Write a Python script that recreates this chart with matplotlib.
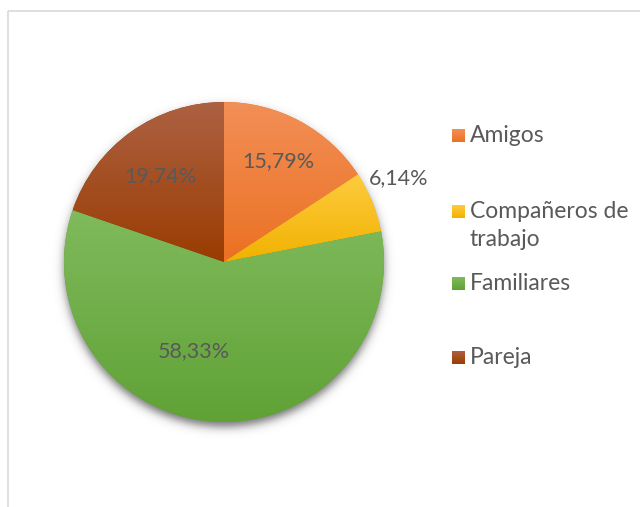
import numpy as np
import matplotlib
matplotlib.use("Agg")
import matplotlib.pyplot as plt
from matplotlib.colors import LinearSegmentedColormap

categories = ["Amigos", "Compañeros de\ntrabajo", "Familiares", "Pareja"]
values = [15.79, 6.14, 58.33, 19.74]

grad_top = ["#F28F57", "#FFCB3F", "#80BA5C", "#AD6142"]
grad_bot = ["#EB7122", "#F0B200", "#60A236", "#9A3C02"]
text_color = "#595959"
FONT = "Lato"

W, H = 640, 507
fig = plt.figure(figsize=(W / 100, H / 100), dpi=100)
ax = fig.add_axes([0, 0, 1, 1])

# chart border
ax.plot([8, 8], [0, H - 11], color="#D9D9D9", lw=1.2, solid_capstyle="butt")
ax.plot([8, W], [H - 11, H - 11], color="#D9D9D9", lw=1.2, solid_capstyle="butt")

cx, cy, R = 224, H - 262, 160

# shadow
xs = np.linspace(cx - R - 30, cx + R + 30, 400)
ys = np.linspace(cy - R - 30, cy + R + 30, 400)
X, Y = np.meshgrid(xs, ys)
d = np.hypot(X - cx, Y - (cy - 5)) - R
alpha = 0.55 / (1 + np.exp(d / 2.8))
rgba = np.zeros(X.shape + (4,))
rgba[..., 3] = alpha
ax.imshow(rgba, extent=(xs[0], xs[-1], ys[0], ys[-1]), origin="lower",
          zorder=1, interpolation="bilinear")

wedges, texts = ax.pie(
    values, center=(cx, cy), radius=R, startangle=90, counterclock=False,
    colors=grad_bot, frame=True, wedgeprops=dict(linewidth=0, zorder=2))

def grad_img(top, bot, n=256):
    cmap = LinearSegmentedColormap.from_list("g", [bot, top])
    return cmap(np.linspace(0, 1, n))[:, None, :]

for w, t, b in zip(wedges, grad_top, grad_bot):
    ext = w.get_path().get_extents()
    im = ax.imshow(grad_img(t, b), extent=(ext.x0, ext.x1, ext.y0, ext.y1),
                   origin="lower", aspect="auto", zorder=3, interpolation="bilinear")
    im.set_clip_path(w)

# data labels
label_pos = [(0.72, 0.0), (1.21, 3.5), (0.59, -15.0), (0.67, 1.0)]
start = 90.0
for v, (rf, dang) in zip(values, label_pos):
    mid = start - v * 3.6 / 2
    start -= v * 3.6
    a = np.deg2rad(mid + dang)
    ax.text(cx + rf * R * np.cos(a), cy + rf * R * np.sin(a),
            f"{v:.2f}%".replace(".", ","), ha="center", va="center",
            color=text_color, fontsize=15.5, family=FONT, zorder=5)

# legend
leg_y = [H - 136, H - 212, H - 284, H - 358]
for lab, t, b, y in zip(categories, grad_top, grad_bot, leg_y):
    ax.imshow(grad_img(t, b), extent=(452, 465, y - 6.5, y + 6.5), origin="lower",
              aspect="auto", zorder=5)
    lines = lab.split("\n")
    for i, ln in enumerate(lines):
        ax.text(470, y - i * 28, ln, ha="left", va="center", color=text_color,
                fontsize=16.5, family=FONT, zorder=5)

ax.set_xlim(0, W)
ax.set_ylim(0, H)
ax.set_aspect("equal")
ax.axis("off")
fig.savefig("out.png", dpi=100, facecolor="white")
